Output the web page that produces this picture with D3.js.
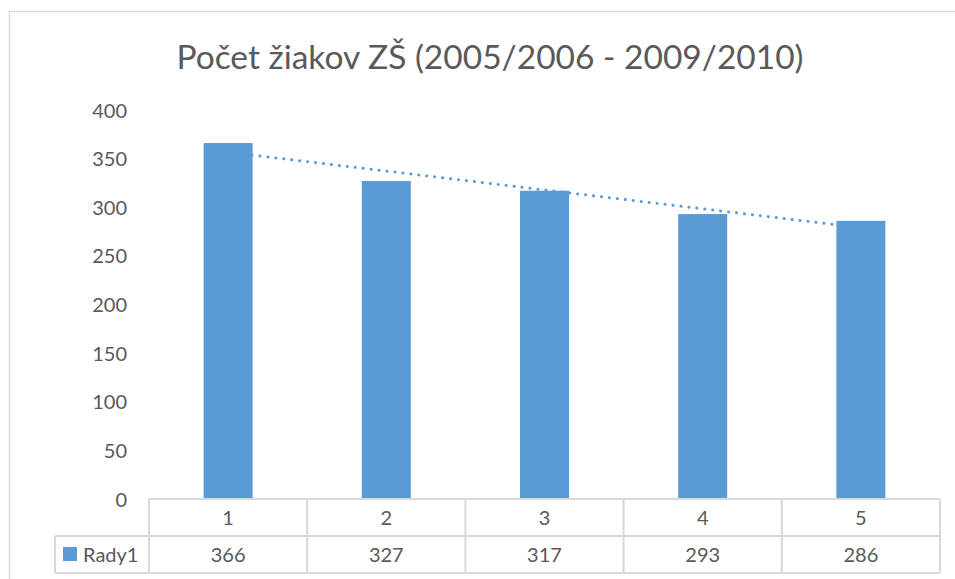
<!DOCTYPE html>
<html><head><meta charset="utf-8">
<script src="https://cdn.jsdelivr.net/npm/d3@7"></script>
<style>body{margin:0;background:#fff}svg{display:block}text{font-family:Lato,"Open Sans",sans-serif;fill:#595959}</style>
</head><body>
<svg id="c" width="955" height="579"></svg>
<script>
const categories = ["1","2","3","4","5"];
const values = [366,327,317,293,286];
const seriesName = "Rady1";
const yTicks = [0,50,100,150,200,250,300,350,400];
const title = "Počet žiakov ZŠ (2005/2006 - 2009/2010)";

const svg = d3.select("#c");
const color = "#5b9bd5", grid = "#d9d9d9";
const plotLeft = 149, plotRight = 940, plotTop = 110, plotBase = 499, rowH = 37, legendLeft = 55;
const fs = "20px";

// outer chart border
svg.append("path").attr("d","M9.5,579 V11.5 H955").attr("fill","none").attr("stroke",grid).attr("stroke-width",1.5);

svg.append("text").attr("x",490).attr("y",69).attr("text-anchor","middle")
  .style("font-size","33.5px").text(title);

const x = d3.scaleBand().domain(categories).range([plotLeft,plotRight]).paddingInner(0).paddingOuter(0);
const y = d3.scaleLinear().domain([0,400]).range([plotBase,plotTop]);

// y axis labels
const ya = svg.append("g").attr("transform",`translate(127,0)`)
  .call(d3.axisLeft(y).tickValues(yTicks).tickSize(0).tickPadding(0));
ya.select(".domain").remove();
ya.selectAll("text").style("font-family","Lato,'Open Sans',sans-serif").style("font-size",fs).attr("fill","#595959").attr("dy","0.35em");

// trendline (least squares over category index)
const xs = categories.map((d,i)=>i+1);
const mx = d3.mean(xs), my = d3.mean(values);
const slope = d3.sum(xs,(v,i)=>(v-mx)*(values[i]-my))/d3.sum(xs,v=>(v-mx)*(v-mx));
const icpt = my - slope*mx;
const cx = c => x(c)+x.bandwidth()/2;
svg.append("line")
  .attr("x1",cx(categories[0])).attr("y1",y(icpt+slope*1))
  .attr("x2",cx(categories[4])).attr("y2",y(icpt+slope*5))
  .attr("stroke",color).attr("stroke-width",3).attr("stroke-linecap","round")
  .attr("stroke-dasharray","0.1 7.9");

// bars
const bw = 49;
svg.selectAll("rect.bar").data(values).join("rect").attr("class","bar")
  .attr("x",(d,i)=>cx(categories[i])-bw/2).attr("width",bw)
  .attr("y",d=>y(d)).attr("height",d=>plotBase-y(d)).attr("fill",color);

// data table
const g = svg.append("g").attr("stroke",grid).attr("stroke-width",2).attr("fill","none");
g.append("line").attr("x1",plotLeft).attr("x2",plotRight).attr("y1",plotBase).attr("y2",plotBase);
g.append("line").attr("x1",legendLeft).attr("x2",plotRight).attr("y1",plotBase+rowH).attr("y2",plotBase+rowH);
g.append("line").attr("x1",legendLeft).attr("x2",plotRight).attr("y1",plotBase+2*rowH).attr("y2",plotBase+2*rowH);
g.append("line").attr("x1",legendLeft).attr("x2",legendLeft).attr("y1",plotBase+rowH).attr("y2",plotBase+2*rowH);
const edges = categories.map(c=>x(c)).concat([plotRight]);
g.selectAll("line.v").data(edges).join("line").attr("class","v")
  .attr("x1",d=>d).attr("x2",d=>d).attr("y1",plotBase).attr("y2",plotBase+2*rowH);

svg.selectAll("text.cat").data(categories).join("text").attr("class","cat")
  .attr("x",d=>cx(d)).attr("y",plotBase+rowH/2).attr("dy","0.35em").attr("text-anchor","middle")
  .style("font-size",fs).text(d=>d);
svg.selectAll("text.val").data(values).join("text").attr("class","val")
  .attr("x",(d,i)=>cx(categories[i])).attr("y",plotBase+rowH*1.5).attr("dy","0.35em").attr("text-anchor","middle")
  .style("font-size",fs).text(d=>d);

svg.append("rect").attr("x",63).attr("y",547).attr("width",14).attr("height",14).attr("fill",color);
svg.append("text").attr("x",83).attr("y",plotBase+rowH*1.5).attr("dy","0.35em").style("font-size",fs).text(seriesName);
</script>
</body></html>
